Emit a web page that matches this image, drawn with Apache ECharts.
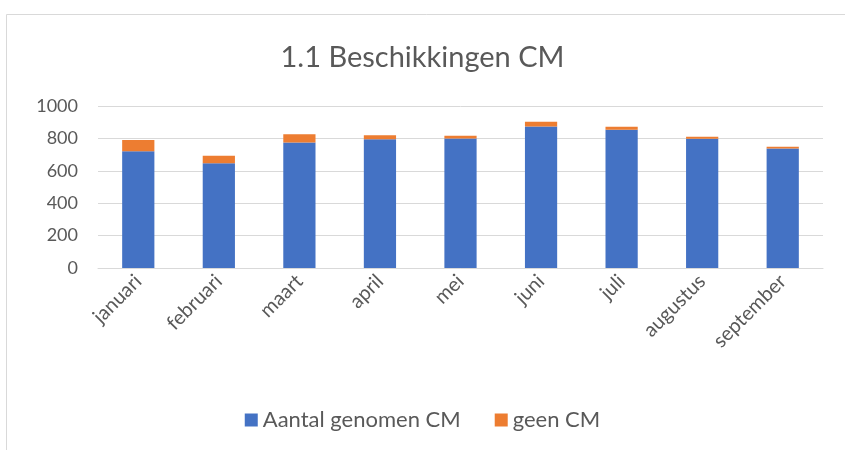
<!DOCTYPE html>
<html>
<head>
<meta charset="utf-8">
<script src="https://cdn.jsdelivr.net/npm/echarts@6/dist/echarts.min.js"></script>
<style>
  html, body { margin: 0; padding: 0; background: #fff; }
  #chart { width: 845px; height: 450px; }
</style>
</head>
<body>
<div id="chart"></div>
<script>
// maanden
const months = ['januari', 'februari', 'maart', 'april', 'mei', 'juni', 'juli', 'augustus', 'september']
// Aantal genomen CM
const genomen = [720, 646, 775, 794, 800, 874, 853, 798, 738]
// geen CM
const geen = [70, 47, 50, 25, 17, 29, 19, 12, 11]
const yTicks = [0, 200, 400, 600, 800, 1000]

const textColor = '#595959'
const font = 'Lato, "Open Sans", sans-serif'

const myChart = echarts.init(document.getElementById('chart'))
const option = {
  animation: false,
  textStyle: { fontFamily: font },
  graphic: [{
    type: 'rect',
    shape: { x: 6.5, y: 14.5, width: 850, height: 450 },
    style: { fill: 'none', stroke: '#d9d9d9', lineWidth: 1 },
    silent: true
  }],
  title: {
    text: '1.1 Beschikkingen CM',
    left: 'center',
    top: 38,
    textStyle: { color: textColor, fontSize: 29, fontWeight: 'normal', fontFamily: font }
  },
  legend: {
    bottom: 14,
    left: 'center',
    itemWidth: 13,
    itemHeight: 13,
    itemGap: 34,
    icon: 'rect',
    textStyle: { color: textColor, fontSize: 22, fontFamily: font }
  },
  grid: { left: 98, right: 22, top: 106, bottom: 182 },
  xAxis: {
    type: 'category',
    data: months,
    axisTick: { show: false },
    axisLine: { lineStyle: { color: '#d9d9d9' } },
    axisLabel: { rotate: 45, color: textColor, fontSize: 20, margin: 10, fontFamily: font }
  },
  yAxis: {
    type: 'value',
    min: yTicks[0],
    max: yTicks[yTicks.length - 1],
    interval: 200,
    axisLine: { show: false },
    axisTick: { show: false },
    splitLine: { lineStyle: { color: '#d9d9d9', width: 1 } },
    axisLabel: { color: textColor, fontSize: 18, margin: 20, fontFamily: font, formatter: (v) => String(v) }
  },
  series: [
    {
      name: 'Aantal genomen CM',
      type: 'bar',
      stack: 'cm',
      barWidth: '40%',
      itemStyle: { color: '#4472c4' },
      data: genomen
    },
    {
      name: 'geen CM',
      type: 'bar',
      stack: 'cm',
      itemStyle: { color: '#ed7d31' },
      data: geen
    }
  ]
}
myChart.setOption(option)
</script>
</body>
</html>
